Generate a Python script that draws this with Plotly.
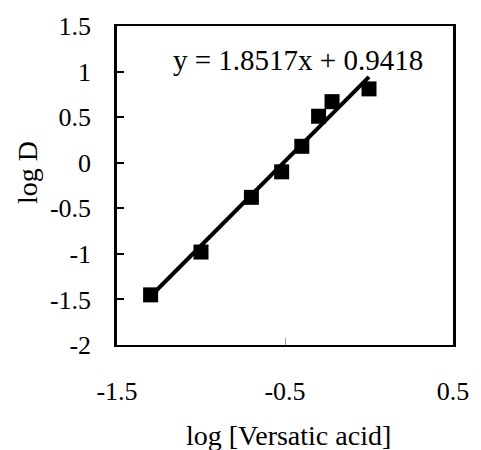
import plotly.graph_objects as go

# Data
log_versatic = [-1.30, -1.00, -0.70, -0.52, -0.40, -0.30, -0.22, 0.00]
log_D = [-1.45, -0.98, -0.38, -0.10, 0.18, 0.51, 0.67, 0.81]
slope = 1.8517
intercept = 0.9418
x_ticks = [-1.5, -0.5, 0.5]
y_ticks = [-2, -1.5, -1, -0.5, 0, 0.5, 1, 1.5]

FONT = "Liberation Serif"

x_fit = [min(log_versatic), max(log_versatic)]
y_fit = [slope * v + intercept for v in x_fit]

W, H = 481, 450
L, R, T, B = 117, 19, 25, 105
pw, ph = W - L - R, H - T - B


def px(xp):
    return (xp - L) / pw


def py(yp):
    return (H - B - yp) / ph


fig = go.Figure()
fig.add_trace(go.Scatter(x=x_fit, y=y_fit, mode="lines",
                         line=dict(color="black", width=4), hoverinfo="skip"))
fig.add_trace(go.Scatter(x=log_versatic, y=log_D, mode="markers",
                         marker=dict(symbol="square", size=15, color="black")))

fig.update_layout(
    width=W, height=H,
    margin=dict(l=L, r=R, t=T, b=B),
    paper_bgcolor="white", plot_bgcolor="white",
    showlegend=False,
    font=dict(family=FONT, size=26, color="black"),
    xaxis=dict(range=[-1.5, 0.5], tickvals=x_ticks, ticktext=[str(t) for t in x_ticks],
               showgrid=False, zeroline=False, showline=True, linecolor="black",
               linewidth=2, mirror=True, ticks="inside", tickcolor="#a0a0a0",
               ticklen=7, tickwidth=1, ticklabelstandoff=22,
               tickfont=dict(family=FONT, size=26, color="black")),
    yaxis=dict(range=[-2, 1.5], tickvals=y_ticks,
               ticktext=[("%g" % t) for t in y_ticks],
               showgrid=False, zeroline=False, showline=True, linecolor="black",
               linewidth=2.5, mirror=True, ticks="inside", tickcolor="black",
               ticklen=7, tickwidth=2, ticklabelstandoff=18,
               tickfont=dict(family=FONT, size=26, color="black")),
    annotations=[
        dict(text="log [Versatic acid]", x=px(293), y=py(436), xref="paper", yref="paper",
             xanchor="center", yanchor="middle",
             showarrow=False, font=dict(family=FONT, size=28)),
        dict(text="log D", x=px(25), y=py(172), xref="paper", yref="paper",
             xanchor="center", yanchor="middle",
             showarrow=False, textangle=-90, font=dict(family=FONT, size=28)),
        dict(text="y = 1.8517x + 0.9418", x=px(303), y=py(59), xref="paper", yref="paper",
             xanchor="center", yanchor="middle",
             showarrow=False, font=dict(family=FONT, size=29)),
    ],
)

fig.write_html("out.html")
